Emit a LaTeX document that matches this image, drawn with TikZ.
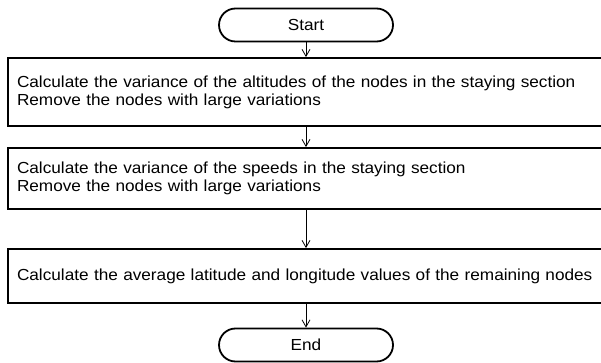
\documentclass[tikz,border=0pt]{standalone}
\usepackage{fontspec}
\setmainfont[FakeStretch=1.075]{Liberation Sans}
\usetikzlibrary{arrows.meta}
\tikzset{
  term/.style={draw, line width=1.8pt, rounded corners=16.5pt, minimum width=174pt, minimum height=33pt, inner sep=0pt, font=\fontsize{16}{18}\selectfont},
  procbox/.style={draw, line width=1.8pt, minimum width=602pt, inner sep=0pt, text width=584pt, align=left, font=\fontsize{16}{18}\selectfont},
  flow/.style={line width=0.8pt, -{Straight Barb[length=7pt,width=8pt,line width=0.8pt]}}
}
\begin{document}
\begin{tikzpicture}[x=1pt,y=-1pt]
\useasboundingbox (0,0) rectangle (601,363);
\clip (0,0) rectangle (601,363);
\node[term] (start) at (306,25) {Start};
\node[procbox, minimum height=68pt] (b1) at (309,92) {Calculate the variance of the altitudes of the nodes in the staying section\\Remove the nodes with large variations};
\node[procbox, minimum height=61pt] (b2) at (309,178.5) {Calculate the variance of the speeds in the staying section\\Remove the nodes with large variations};
\node[procbox, minimum height=54pt] (b3) at (309,276) {Calculate the average latitude and longitude values of the remaining nodes};
\node[term] (end) at (306,345) {End};
\draw[flow] (start.south) -- (start.south |- b1.north);
\draw[flow] (start.south |- b1.south) -- (start.south |- b2.north);
\draw[flow] (start.south |- b2.south) -- (start.south |- b3.north);
\draw[flow] (start.south |- b3.south) -- (end.north);
\end{tikzpicture}
\end{document}
